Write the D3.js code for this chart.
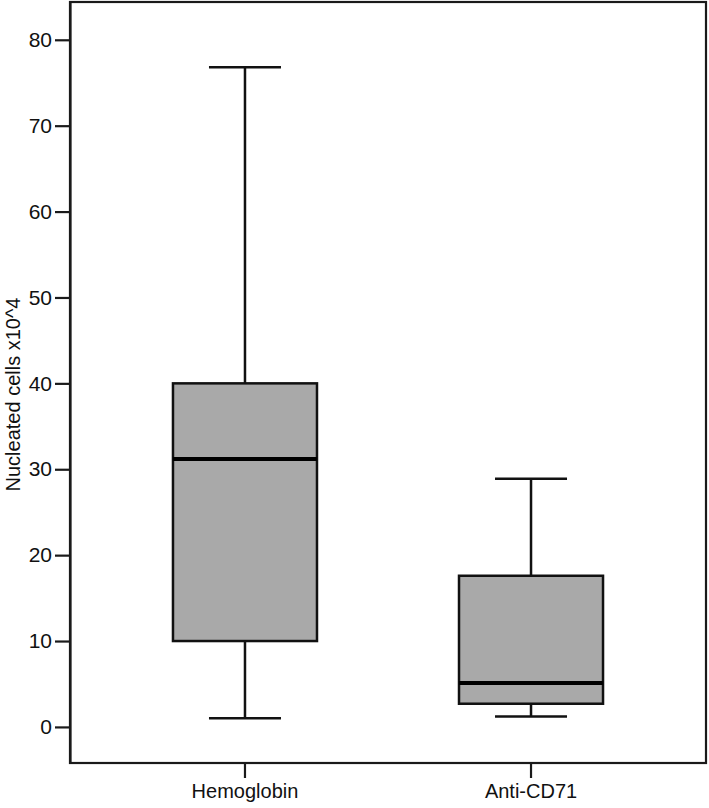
<!DOCTYPE html>
<html>
<head>
<meta charset="utf-8">
<script src="https://cdn.jsdelivr.net/npm/d3@7"></script>
<style>
  html, body { margin: 0; padding: 0; background: #fff; }
  svg { display: block; }
  text { font-family: "Liberation Sans", Arial, sans-serif; fill: #111; }
</style>
</head>
<body>
<svg id="chart" width="709" height="808"></svg>
<script>
const categories = ["Hemoglobin", "Anti-CD71"];
const whiskerLow  = [1.0, 1.2];
const q1          = [10.0, 2.7];
const medians     = [31.2, 5.1];
const q3          = [40.0, 17.6];
const whiskerHigh = [76.8, 28.9];
const yTicks = [0, 10, 20, 30, 40, 50, 60, 70, 80];
const yLabel = "Nucleated cells x10^4";

const data = categories.map((c, i) => ({
  cat: c, lo: whiskerLow[i], q1: q1[i], med: medians[i], q3: q3[i], hi: whiskerHigh[i]
}));

const svg = d3.select("#chart");
const pLeft = 70, pRight = 706, pTop = 2, pBottom = 763;

const x = d3.scaleBand().domain(categories).range([pLeft, pRight])
  .paddingInner(0.4965).paddingOuter(0.36);
const y = d3.scaleLinear().domain([-4.2, 84.4]).range([pBottom, pTop]);

// frame
svg.append("rect")
  .attr("x", pLeft).attr("y", pTop)
  .attr("width", pRight - pLeft).attr("height", pBottom - pTop)
  .attr("fill", "none").attr("stroke", "#1a1a1a").attr("stroke-width", 2.2);

// y axis
const yAxis = d3.axisLeft(y).tickValues(yTicks).tickSizeInner(15).tickSizeOuter(0).tickPadding(3);
const gy = svg.append("g").attr("transform", `translate(${pLeft},0)`).call(yAxis);
gy.select(".domain").attr("stroke", "#1a1a1a").attr("stroke-width", 2.2);
gy.selectAll(".tick line").attr("stroke", "#1a1a1a").attr("stroke-width", 2.2);
gy.selectAll(".tick text").style("font-size", "21px").attr("fill", "#111")
  .style("font-family", '"Liberation Sans", Arial, sans-serif');

// x axis
const xAxis = d3.axisBottom(x).tickSizeInner(15).tickSizeOuter(0).tickPadding(6);
const gx = svg.append("g").attr("transform", `translate(0,${pBottom})`).call(xAxis);
gx.select(".domain").remove();
gx.selectAll(".tick line").attr("stroke", "#1a1a1a").attr("stroke-width", 2.2);
gx.selectAll(".tick text").style("font-size", "20px").attr("fill", "#111")
  .style("font-family", '"Liberation Sans", Arial, sans-serif');

// y label
svg.append("text")
  .attr("transform", `translate(20,${(pTop + pBottom) / 2 + 12}) rotate(-90)`)
  .attr("text-anchor", "middle")
  .style("font-size", "20px")
  .text(yLabel);

const bw = x.bandwidth();
const g = svg.append("g");
data.forEach(d => {
  const cx = x(d.cat) + bw / 2;
  const capW = bw / 2;
  g.append("line").attr("x1", cx).attr("x2", cx).attr("y1", y(d.hi)).attr("y2", y(d.q3))
    .attr("stroke", "#111").attr("stroke-width", 2.5);
  g.append("line").attr("x1", cx).attr("x2", cx).attr("y1", y(d.q1)).attr("y2", y(d.lo))
    .attr("stroke", "#111").attr("stroke-width", 2.5);
  g.append("line").attr("x1", cx - capW / 2).attr("x2", cx + capW / 2)
    .attr("y1", y(d.hi)).attr("y2", y(d.hi)).attr("stroke", "#111").attr("stroke-width", 2.5);
  g.append("line").attr("x1", cx - capW / 2).attr("x2", cx + capW / 2)
    .attr("y1", y(d.lo)).attr("y2", y(d.lo)).attr("stroke", "#111").attr("stroke-width", 2.5);
  g.append("rect").attr("x", x(d.cat)).attr("width", bw)
    .attr("y", y(d.q3)).attr("height", y(d.q1) - y(d.q3))
    .attr("fill", "#a9a9a9").attr("stroke", "#111").attr("stroke-width", 2.5);
  g.append("line").attr("x1", x(d.cat)).attr("x2", x(d.cat) + bw)
    .attr("y1", y(d.med)).attr("y2", y(d.med)).attr("stroke", "#000").attr("stroke-width", 4);
});
</script>
</body>
</html>
